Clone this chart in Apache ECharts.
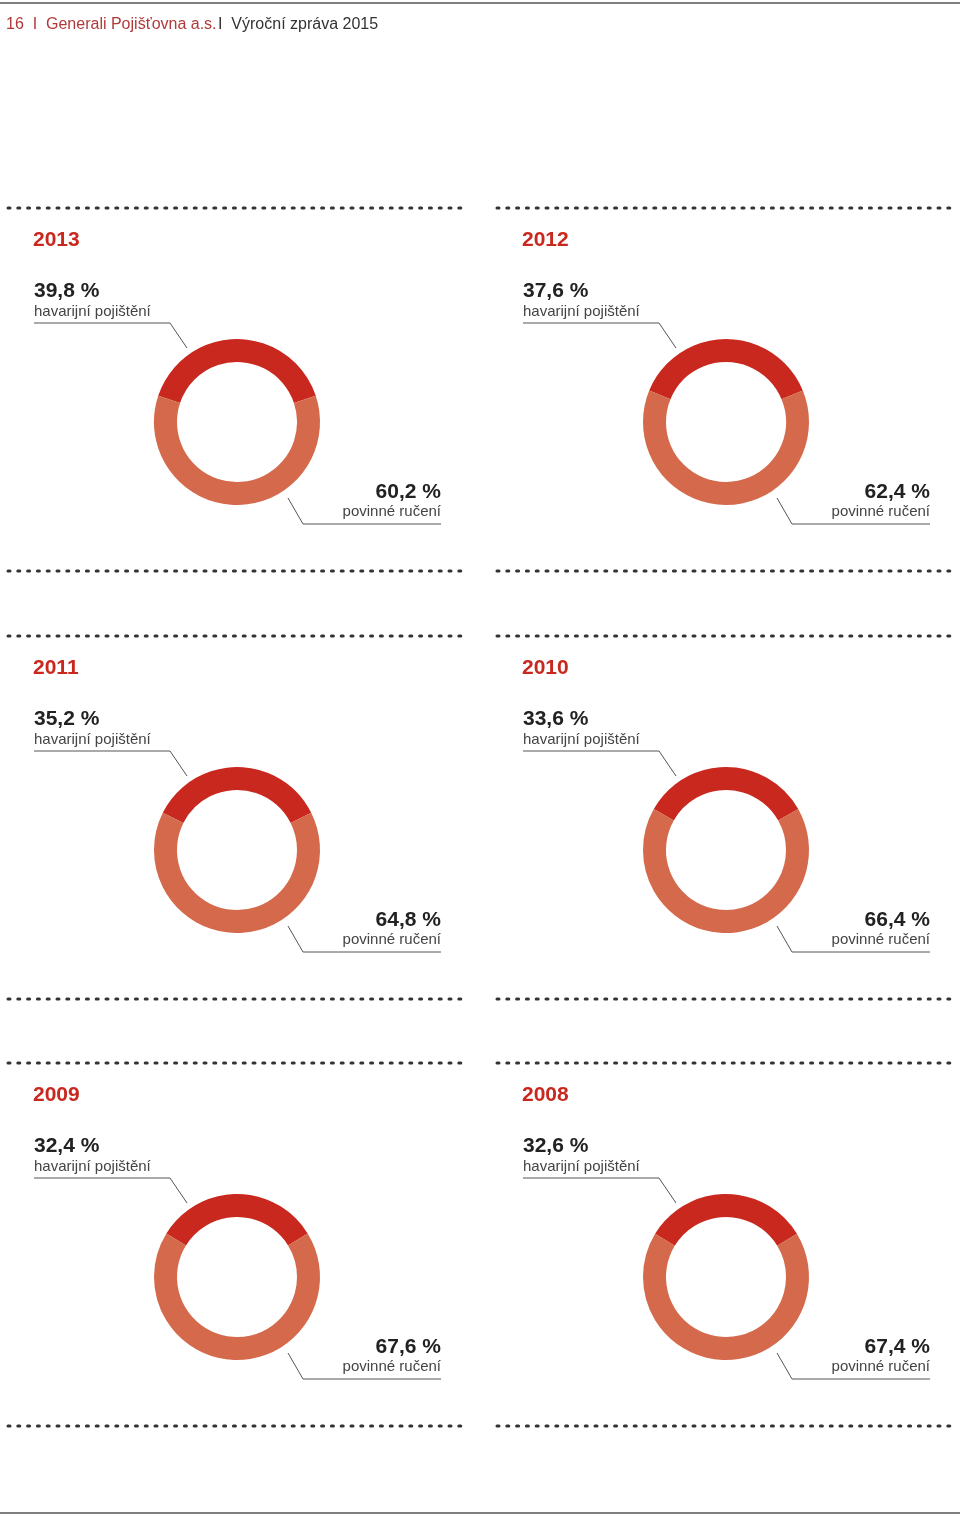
<!DOCTYPE html>
<html lang="cs">
<head>
<meta charset="UTF-8">
<title>Generali Pojišťovna</title>
<script src="https://cdn.jsdelivr.net/npm/echarts@6/dist/echarts.min.js"></script>
<style>body{margin:0;background:#fff}</style>
</head>
<body>
<div id="main" style="width:960px;height:1516px;"></div>
<script>
// data
var years = ['2013', '2012', '2011', '2010', '2009', '2008'];
var havarijni = [39.8, 37.6, 35.2, 33.6, 32.4, 32.6];
var povinne = [60.2, 62.4, 64.8, 66.4, 67.6, 67.4];
var names = ['havarijní pojištění', 'povinné ručení'];

var RED = '#c8281e', ORANGE = '#d4694b', DARK = '#222';
var font = 'Helvetica, "Liberation Sans", Arial, sans-serif';
var rowsY = [208, 636, 1063];
var colsX = [0, 489];

function fmt(v) { return v.toFixed(1).replace('.', ',') + ' %'; }

var series = [], graphic = [];
graphic.push({type: 'line', shape: {x1: 0, y1: 3, x2: 960, y2: 3}, style: {stroke: '#555', lineWidth: 1.5}});
graphic.push({type: 'line', shape: {x1: 0, y1: 1513, x2: 960, y2: 1513}, style: {stroke: '#555', lineWidth: 1.5}});
graphic.push({type: 'text', left: 6, top: 17, style: {text: '16  I  Generali Pojišťovna a.s.', font: '16px ' + font, fill: '#b03a3a'}});
graphic.push({type: 'text', left: 218, top: 17, style: {text: 'I  Výroční zpráva 2015', font: '16px ' + font, fill: '#333'}});

years.forEach(function (yr, i) {
  var y0 = rowsY[Math.floor(i / 2)], dx = colsX[i % 2];
  var cx = 237 + dx, cy = y0 + 214;
  [y0, y0 + 363].forEach(function (sy) {
    graphic.push({type: 'line', shape: {x1: 8 + dx, y1: sy, x2: 468 + dx, y2: sy},
      style: {stroke: '#333', lineWidth: 3, lineDash: [2, 7.8], lineCap: 'round'}});
  });
  graphic.push({type: 'text', left: 33 + dx, top: y0 + 22, style: {text: yr, font: 'bold 21px ' + font, fill: RED}});
  graphic.push({type: 'text', left: 34 + dx, top: y0 + 73, style: {text: fmt(havarijni[i]), font: 'bold 21px ' + font, fill: DARK}});
  graphic.push({type: 'text', left: 34 + dx, top: y0 + 96, style: {text: names[0], font: '15px ' + font, fill: '#444'}});
  graphic.push({type: 'polyline', shape: {points: [[34 + dx, y0 + 115], [170 + dx, y0 + 115], [187 + dx, y0 + 140]]},
    style: {stroke: '#555', lineWidth: 1, fill: null}});
  graphic.push({type: 'text', right: 960 - 441 - dx, top: y0 + 274, style: {text: fmt(povinne[i]), font: 'bold 21px ' + font, fill: DARK, align: 'right'}});
  graphic.push({type: 'text', right: 960 - 441 - dx, top: y0 + 296, style: {text: names[1], font: '15px ' + font, fill: '#444', align: 'right'}});
  graphic.push({type: 'polyline', shape: {points: [[288 + dx, y0 + 290], [303 + dx, y0 + 316], [441 + dx, y0 + 316]]},
    style: {stroke: '#555', lineWidth: 1, fill: null}});
  series.push({
    type: 'pie', center: [cx, cy], radius: [60, 83], silent: true,
    startAngle: 90 + havarijni[i] * 1.8, clockwise: true,
    label: {show: false}, labelLine: {show: false},
    data: [
      {name: names[0], value: havarijni[i], itemStyle: {color: RED}},
      {name: names[1], value: povinne[i], itemStyle: {color: ORANGE}}
    ]
  });
});

var myChart = echarts.init(document.getElementById('main'));
myChart.setOption({backgroundColor: '#fff', animation: false, series: series, graphic: graphic});
</script>
</body>
</html>
